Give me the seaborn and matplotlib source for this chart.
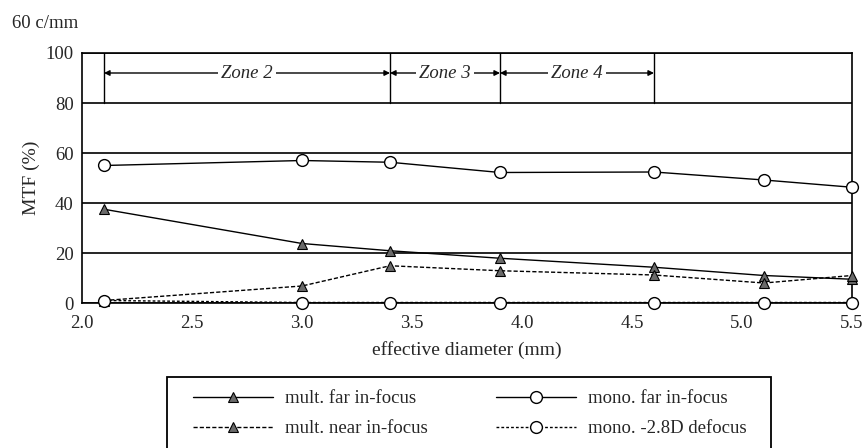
import matplotlib
matplotlib.use("Agg")
import matplotlib.pyplot as plt
import matplotlib.patches as mpatches
from matplotlib.lines import Line2D
import seaborn as sns
import pandas as pd

# ---- data ----
diameter = [2.1, 3.0, 3.4, 3.9, 4.6, 5.1, 5.5]
mult_far = [37.5, 23.8, 20.9, 17.9, 14.3, 11.0, 9.5]
mult_near = [1.0, 6.8, 14.9, 12.9, 11.2, 8.0, 11.0]
mono_far = [55.0, 57.0, 56.3, 52.2, 52.4, 49.2, 46.3]
mono_defocus = [1.0, 0.2, 0.2, 0.2, 0.2, 0.2, 0.2]

zone_edges = [2.1, 3.4, 3.9, 4.6]
zone_labels = ["Zone 2", "Zone 3", "Zone 4"]
x_ticks = [2.0, 2.5, 3.0, 3.5, 4.0, 4.5, 5.0, 5.5]
y_ticks = [0, 20, 40, 60, 80, 100]

series_names = ["mult. far in-focus", "mult. near in-focus",
                "mono. far in-focus", "mono. -2.8D defocus"]

sns.set_style("white")
plt.rcParams["font.family"] = ["Liberation Serif", "DejaVu Serif"]

fig = plt.figure(figsize=(8.64, 4.48), dpi=100)
W, H = 864, 448
ax = fig.add_axes([82 / W, 1 - 303 / H, (852 - 82) / W, (303 - 53) / H])

tri_kw = dict(marker="^", markersize=7.5, markerfacecolor="#6a6a6a",
              markeredgecolor="black", markeredgewidth=0.8)
circ_kw = dict(marker="o", markersize=8.5, markerfacecolor="white",
               markeredgecolor="black", markeredgewidth=1.0)
styles = [
    dict(linestyle="-", **tri_kw),
    dict(linestyle=(0, (3, 1.5)), **tri_kw),
    dict(linestyle="-", **circ_kw),
    dict(linestyle=(0, (2, 1.5)), **circ_kw),
]
values = [mult_far, mult_near, mono_far, mono_defocus]

handles = []
for name, vals, st in zip(series_names, values, styles):
    df = pd.DataFrame({"x": diameter, "y": vals})
    sns.lineplot(data=df, x="x", y="y", ax=ax, color="black", linewidth=1.0,
                 clip_on=False, zorder=3, **st)
    handles.append(Line2D([0], [0], color="black", linewidth=1.0, **st))

ax.set_xlim(2.0, 5.5)
ax.set_ylim(0, 100)
ax.set_xticks(x_ticks)
ax.set_xticklabels([f"{t:.1f}" for t in x_ticks])
ax.set_yticks(y_ticks)
ax.set_yticklabels([str(t) for t in y_ticks])
ax.yaxis.grid(True, color="black", linewidth=1.2)
ax.xaxis.grid(False)
for sp in ax.spines.values():
    sp.set_visible(True)
    sp.set_color("black")
    sp.set_linewidth(1.2)
ax.tick_params(axis="x", direction="out", length=4, width=1, color="black",
               labelsize=13.5, pad=5)
ax.tick_params(axis="y", direction="out", length=4, width=1, color="black",
               labelsize=13.5, pad=2)
ax.set_xlabel("effective diameter (mm)", fontsize=14, labelpad=6)
ax.set_ylabel("MTF (%)", fontsize=14, labelpad=4)

# zone boxes
for xe in zone_edges:
    ax.plot([xe, xe], [80, 100], color="black", linewidth=1.0, zorder=2)
for i, lab in enumerate(zone_labels):
    a, b = zone_edges[i], zone_edges[i + 1]
    ax.annotate("", xy=(a, 92), xytext=(b, 92),
                arrowprops=dict(arrowstyle="<|-|>", lw=1.0, color="black",
                                mutation_scale=8, shrinkA=0, shrinkB=0))
    ax.text((a + b) / 2, 92, lab, ha="center", va="center", style="italic",
            fontsize=13.5,
            bbox=dict(facecolor="white", edgecolor="none", pad=2))

fig.text(12 / W, 1 - 23 / H, "60 c/mm", fontsize=13.5, ha="left", va="center")

# legend
leg = fig.legend(handles=handles, labels=series_names,
                 ncol=2, loc="upper left",
                 bbox_to_anchor=(193 / W, 1 - 390 / H),
                 frameon=False, fontsize=13.5, handlelength=4.27,
                 handletextpad=0.64, columnspacing=3.65, labelspacing=0.7,
                 borderpad=0, borderaxespad=0, numpoints=1)
rect = mpatches.Rectangle((167 / W, 1 - 452 / H), (771 - 167) / W, (452 - 377) / H,
                          transform=fig.transFigure, fill=False,
                          edgecolor="black", linewidth=1.3, clip_on=False)
fig.patches.append(rect)

fig.savefig("out.png", dpi=100)
